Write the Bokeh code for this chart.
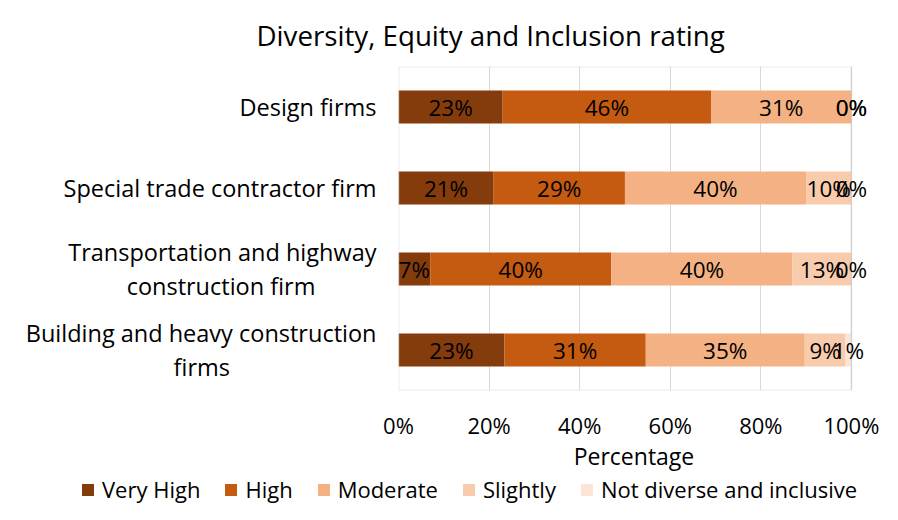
from bokeh.plotting import figure
from bokeh.layouts import column
from bokeh.models import (ColumnDataSource, NumeralTickFormatter, Legend, LegendItem,
                          FixedTicker, Range1d, FactorRange, LabelSet, BoxAnnotation)
from bokeh.core.properties import value
from bokeh.embed import file_html
from bokeh.resources import INLINE

FONT = "Open Sans"
NB = "\u00a0"

categories = [
    "Building and heavy construction\nfirms" + NB * 24,
    "Transportation and highway\nconstruction firm" + NB * 10,
    "Special trade contractor firm",
    "Design firms",
]
series_names = ["Very High", "High", "Moderate", "Slightly", "Not diverse and inclusive"]
very_high = [23.4, 7, 21, 23]
high = [31.2, 40, 29, 46]
moderate = [35.1, 40, 40, 31]
slightly = [9.0, 13, 10, 0]
not_diverse = [1.3, 0, 0, 0]
colors = ["#843C0C", "#C55A11", "#F4B183", "#F8CBAD", "#FBE5D6"]
x_ticks = [0, 0.2, 0.4, 0.6, 0.8, 1.0]

series = [very_high, high, moderate, slightly, not_diverse]
keys = ["s%d" % i for i in range(len(series))]
data = {"cat": categories}
for k, s in zip(keys, series):
    data[k] = [v / 100 for v in s]
source = ColumnDataSource(data)

W = 882
H_CHART = 474
X_END = 1.04          # a little room right of 100% so the end labels are not cut
PLOT_W = 453          # pixel width of the 0..100% plot area
p = figure(width=W, height=H_CHART, y_range=FactorRange(*categories), x_range=Range1d(0, X_END),
           output_backend="svg", toolbar_location=None,
           min_border_left=398, min_border_right=W - 398 - round(PLOT_W * X_END),
           min_border_top=65, min_border_bottom=H_CHART - 390)

renderers = p.hbar_stack(keys, y="cat", height=0.41, color=colors, source=source, line_color=None)

# plot-area border around 0..100%
p.add_layout(BoxAnnotation(left=0, right=1, bottom=0, top=len(categories), fill_alpha=0,
                           line_color="#BFBFBF", line_width=2))
p.outline_line_color = None

# data labels
lx, ly, lt = [], [], []
for ci, cat in enumerate(categories):
    cum = 0.0
    for s in series:
        v = s[ci] / 100
        lx.append(cum + v / 2)
        ly.append(cat)
        lt.append("%d%%" % round(s[ci]))
        cum += v
lsrc = ColumnDataSource(dict(x=lx, y=ly, t=lt))
labels = LabelSet(x="x", y="y", text="t", source=lsrc, text_align="center", text_baseline="middle",
                  text_font=value(FONT), text_font_size="22.5px", text_color="#000000")
p.add_layout(labels)

# title
p.title.text = "Diversity, Equity and Inclusion rating"
p.title.text_font = FONT
p.title.text_font_size = "27.7px"
p.title.text_font_style = "normal"
p.title.text_color = "#000000"
p.title.align = "left"
p.title.offset = -142
p.title.standoff = 26

# axes
p.xaxis.ticker = FixedTicker(ticks=x_ticks)
p.xaxis.formatter = NumeralTickFormatter(format="0%")
p.xaxis.axis_line_color = None
p.xaxis.major_tick_line_color = None
p.xaxis.minor_tick_line_color = None
p.xaxis.major_tick_out = 0
p.xaxis.major_tick_in = 0
p.xaxis.major_label_standoff = 19
p.xaxis.major_label_text_font = FONT
p.xaxis.major_label_text_font_size = "22px"
p.xaxis.major_label_text_color = "#000000"
p.xaxis.axis_label = "Percentage"
p.xaxis.axis_label_text_font = FONT
p.xaxis.axis_label_text_font_size = "23px"
p.xaxis.axis_label_text_font_style = "normal"
p.xaxis.axis_label_text_color = "#000000"
p.xaxis.axis_label_standoff = -3

p.yaxis.axis_line_color = None
p.yaxis.major_tick_line_color = None
p.yaxis.minor_tick_line_color = None
p.yaxis.major_tick_out = 0
p.yaxis.major_tick_in = 0
p.yaxis.major_label_standoff = 22
p.yaxis.major_label_text_font = FONT
p.yaxis.major_label_text_font_size = "23.5px"
p.yaxis.major_label_text_color = "#000000"
p.yaxis.major_label_text_line_height = 1.07

p.xgrid.grid_line_color = "#D9D9D9"
p.ygrid.grid_line_color = None

# legend strip below the chart
pl = figure(frame_width=W, frame_height=504 - H_CHART, output_backend="svg", toolbar_location=None,
            x_axis_location=None, y_axis_location=None, min_border=0,
            x_range=Range1d(0, 1), y_range=Range1d(0, 1))
pl.title.visible = False
pl.outline_line_color = None
pl.xgrid.grid_line_color = None
pl.ygrid.grid_line_color = None
for fig in (p, pl):
    if "frame_align" in fig.properties():
        fig.frame_align = False
# swatch renderers for the legend (kept outside the visible range)
swatches = [pl.hbar(y=[-5], right=[1], height=0.5, color=c, line_color=None) for c in colors]
legend = Legend(items=[LegendItem(label=n, renderers=[r]) for n, r in zip(series_names, swatches)],
                orientation="horizontal", location=(80, 0),
                glyph_width=15, glyph_height=15, label_standoff=7, spacing=23,
                padding=0, margin=0, border_line_color=None, background_fill_alpha=0,
                label_text_font=FONT, label_text_font_size="22px", label_text_color="#000000")
pl.add_layout(legend, "center")

open("out.html", "w").write(file_html(column(p, pl, spacing=0), INLINE))
